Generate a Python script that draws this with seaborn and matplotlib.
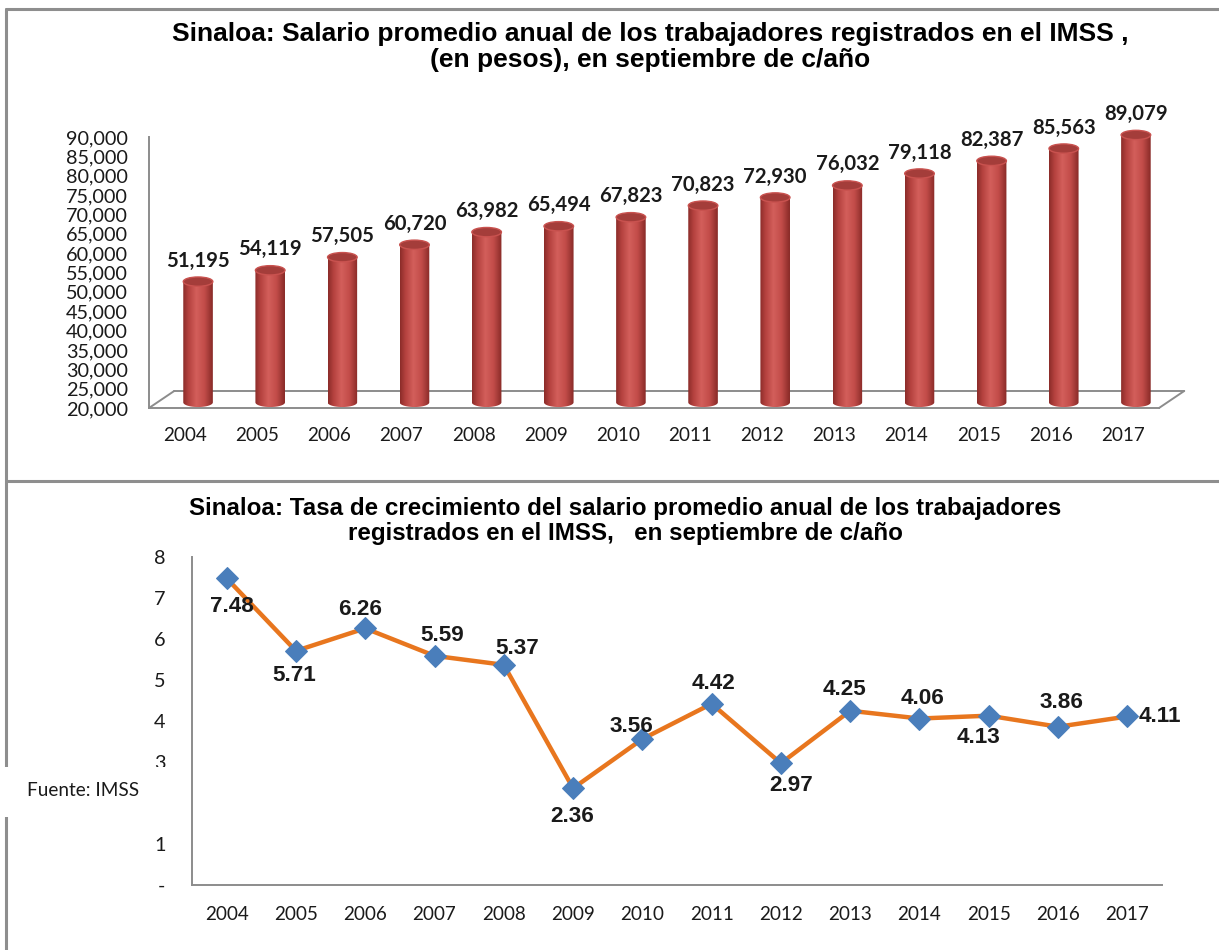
import numpy as np
import pandas as pd
import matplotlib
matplotlib.use("Agg")
import matplotlib.pyplot as plt
import seaborn as sns
from matplotlib.patches import Ellipse, Rectangle, Polygon
from matplotlib.colors import LinearSegmentedColormap
from matplotlib.ticker import FixedLocator, FuncFormatter
from matplotlib.lines import Line2D

# ---------------- data ----------------
years = ["2004", "2005", "2006", "2007", "2008", "2009", "2010",
         "2011", "2012", "2013", "2014", "2015", "2016", "2017"]
salario = [51195, 54119, 57505, 60720, 63982, 65494, 67823,
           70823, 72930, 76032, 79118, 82387, 85563, 89079]
crecimiento = [7.48, 5.71, 6.26, 5.59, 5.37, 2.36, 3.56,
               4.42, 2.97, 4.25, 4.06, 4.13, 3.86, 4.11]
y1_ticks = list(range(20000, 90001, 5000))
y2_ticks = [0, 1, 2, 3, 4, 5, 6, 7, 8]
y2_ticklabels = ["-", "1", "2", "3", "4", "5", "6", "7", "8"]

title1 = "Sinaloa: Salario promedio anual de los trabajadores registrados en el IMSS ,\n(en pesos), en septiembre de c/año"
title2 = "Sinaloa: Tasa de crecimiento del salario promedio anual de los trabajadores\nregistrados en el IMSS,   en septiembre de c/año"
fuente = "Fuente: IMSS"

# ---------------- style ----------------
sns.set_style("white")
plt.rcParams["font.family"] = ["Lato", "DejaVu Sans"]
TITLE_FONT = ["Liberation Sans", "DejaVu Sans"]

W, H = 1219, 950
RED_TOP = "#A43D3A"
RED_TOP_EDGE = "#C9524F"
ORANGE = "#E8761E"
BLUE = "#4A7EBB"
AXIS_GRAY = "#8C8C8C"
BORDER_GRAY = "#8E8E8E"
TXT = "#1A1A1A"

cyl_cmap = LinearSegmentedColormap.from_list(
    "cyl", [(0.0, "#8A2C29"), (0.18, "#B4413E"), (0.45, "#D35F5B"),
            (0.72, "#C24C49"), (1.0, "#872A27")])

fig = plt.figure(figsize=(W / 100, H / 100), dpi=100)
fig.patch.set_facecolor("white")

df = pd.DataFrame({"year": years, "salario": salario, "crec": crecimiento})

# ---------------- top chart ----------------
ax1 = fig.add_axes([149 / W, 1 - 408 / H, (1159 - 149) / W, (408 - 137) / H])
sns.barplot(data=df, x="year", y="salario", ax=ax1, color="#C0504D",
            width=0.41, saturation=1)

BASE = 20000
DEPTH = 1450        # 3D depth shift (data units)
ELL_H = 2400        # ellipse height (data units)
BAR_SHIFT = 0.18    # 3D horizontal shift (category units)
FLOOR_DX = 0.35
FLOOR_DY = 4400

grad = np.linspace(0, 1, 256).reshape(1, -1)
bars = list(ax1.patches)
for p, v in zip(bars, salario):
    x0 = p.get_x() + BAR_SHIFT
    w = p.get_width()
    cx = x0 + w / 2
    yb = BASE + DEPTH
    yt = v + DEPTH
    p.set_visible(False)
    t = np.linspace(np.pi, 2 * np.pi, 50)
    xs = np.concatenate([cx + w / 2 * np.cos(t), [x0 + w, x0]])
    ys = np.concatenate([yb + ELL_H / 2 * np.sin(t), [yt, yt]])
    body = Polygon(np.column_stack([xs, ys]), closed=True, facecolor="none",
                   edgecolor="none", transform=ax1.transData)
    ax1.add_patch(body)
    im = ax1.imshow(grad, cmap=cyl_cmap, extent=(x0, x0 + w, yb - ELL_H / 2, yt),
                    aspect="auto", origin="lower", zorder=3, interpolation="bilinear")
    im.set_clip_box(None)
    im.set_clip_path(body)
    ax1.add_patch(Ellipse((cx, yt), w, ELL_H, facecolor=RED_TOP,
                          edgecolor=RED_TOP_EDGE, lw=1.0, zorder=4, clip_on=False))
    ax1.annotate(f"{v:,}", (cx, yt), xytext=(0, 21), textcoords="offset pixels",
                 ha="center", va="center", fontsize=14.6, fontweight="bold",
                 color=TXT, annotation_clip=False, zorder=6)

# 3D floor lines
ax1.plot([-0.5 + FLOOR_DX, len(years) - 0.5 + FLOOR_DX], [BASE + FLOOR_DY] * 2,
         color=AXIS_GRAY, lw=1.4, clip_on=False, zorder=1)
ax1.plot([-0.5, -0.5 + FLOOR_DX], [BASE, BASE + FLOOR_DY],
         color=AXIS_GRAY, lw=1.4, clip_on=False, zorder=1)
ax1.plot([len(years) - 0.5, len(years) - 0.5 + FLOOR_DX], [BASE, BASE + FLOOR_DY],
         color=AXIS_GRAY, lw=1.4, clip_on=False, zorder=1)

ax1.set_xlim(-0.5, len(years) - 0.5)
ax1.set_ylim(20000, 90000)
ax1.set_yticks(y1_ticks)
ax1.yaxis.set_major_formatter(FuncFormatter(lambda v, _: f"{int(v):,}"))
ax1.set_xticks(range(len(years)))
ax1.set_xticklabels(years)
ax1.xaxis.set_minor_locator(FixedLocator(np.arange(-0.5, len(years), 1.0)))
ax1.tick_params(axis="x", which="major", length=0, pad=14, labelsize=13.6, labelcolor=TXT)
ax1.tick_params(axis="x", which="minor", length=7, width=1.3, color=AXIS_GRAY, direction="out")
ax1.tick_params(axis="y", which="major", length=7, width=1.3, color=AXIS_GRAY,
                direction="out", pad=8, labelsize=14.3, labelcolor=TXT)
ax1.set_xlabel("")
ax1.set_ylabel("")
for s in ["top", "right"]:
    ax1.spines[s].set_visible(False)
for s in ["left", "bottom"]:
    ax1.spines[s].set_color(AXIS_GRAY)
    ax1.spines[s].set_linewidth(1.4)
ax1.patch.set_alpha(0)

fig.text(650 / W, 1 - 47 / H, title1, ha="center", va="center", multialignment="center",
         fontsize=19, fontweight="bold", family=TITLE_FONT, color="black", linespacing=1.15)

# ---------------- bottom chart ----------------
ax2 = fig.add_axes([192 / W, 1 - 885 / H, (1162 - 192) / W, (885 - 557) / H])
sns.lineplot(data=df, x="year", y="crec", ax=ax2, color=ORANGE, linewidth=3.2,
             marker="D", markersize=11, markerfacecolor=BLUE, markeredgecolor=BLUE,
             sort=False)

label_offsets = [(5, -28), (-2, -25), (-5, 19), (8, 20), (13, 16), (-1, -28), (-11, 13),
                 (2, 20), (10, -22), (-6, 21), (3, 20), (-10, -22), (3, 24), (33, 0)]
for i, (v, off) in enumerate(zip(crecimiento, label_offsets)):
    ax2.annotate(f"{v:.2f}", (i, v), xytext=off, textcoords="offset pixels",
                 ha="center", va="center", fontsize=16.2, fontweight="bold",
                 family=TITLE_FONT, color=TXT, annotation_clip=False)

ax2.set_xlim(-0.5, len(years) - 0.5)
ax2.set_ylim(0, 8)
ax2.set_yticks(y2_ticks)
ax2.set_yticklabels(y2_ticklabels)
ax2.set_xticks(range(len(years)))
ax2.set_xticklabels(years)
ax2.xaxis.set_minor_locator(FixedLocator(np.arange(-0.5, len(years), 1.0)))
ax2.tick_params(axis="x", which="major", length=0, pad=15, labelsize=13.6, labelcolor=TXT)
ax2.tick_params(axis="x", which="minor", length=7, width=1.3, color=AXIS_GRAY, direction="out")
ax2.tick_params(axis="y", which="major", length=7, width=1.3, color=AXIS_GRAY,
                direction="out", pad=12, labelsize=14.3, labelcolor=TXT)
ax2.set_xlabel("")
ax2.set_ylabel("")
for s in ["top", "right"]:
    ax2.spines[s].set_visible(False)
for s in ["left", "bottom"]:
    ax2.spines[s].set_color(AXIS_GRAY)
    ax2.spines[s].set_linewidth(1.4)
ax2.patch.set_alpha(0)

fig.text(625 / W, 1 - 521 / H, title2, ha="center", va="center", multialignment="center",
         fontsize=17.4, fontweight="bold", family=TITLE_FONT, color="black", linespacing=1.08)

# ---------------- panel borders ----------------
for xs_, ys_ in [([6 / W, 1], [1 - 9 / H, 1 - 9 / H]),
                 ([6 / W, 6 / W], [0, 1 - 9 / H]),
                 ([6 / W, 1], [1 - 481 / H, 1 - 481 / H])]:
    fig.add_artist(Line2D(xs_, ys_, transform=fig.transFigure, color=BORDER_GRAY,
                          lw=2.2, zorder=5))

# ---------------- source box ----------------
fig.add_artist(Rectangle((0, 1 - 817 / H), 178 / W, 50 / H, transform=fig.transFigure,
                         facecolor="white", edgecolor="none", zorder=10))
fig.text(27 / W, 1 - 790 / H, fuente, ha="left", va="center", fontsize=13.7,
         color=TXT, zorder=11)

fig.savefig("out.png", dpi=100, facecolor="white")
